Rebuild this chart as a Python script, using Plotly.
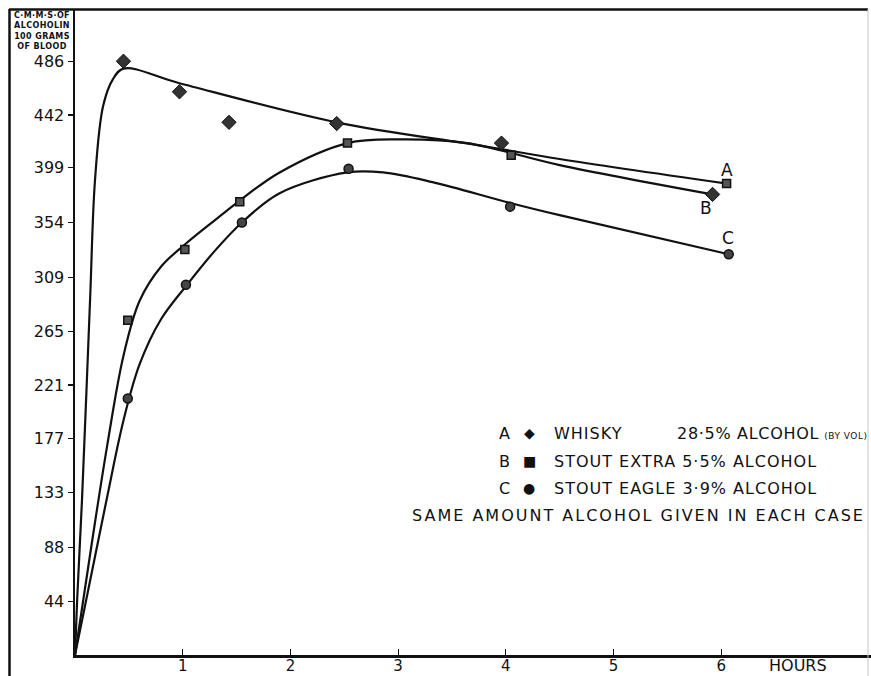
import plotly.graph_objects as go

# ---- data ----
y_tick_vals = [44, 88, 133, 177, 221, 265, 309, 354, 399, 442, 486]
y_tick_text = ["44", "88", "133", "177", "221", "265", "309", "354", "399", "442", "486"]
x_tick_vals = [1, 2, 3, 4, 5, 6]
x_tick_text = ["1", "2", "3", "4", "5", "6"]

# observed points (hours, C.M.M.S. of alcohol in 100 g of blood)
whisky_x = [0.45, 0.97, 1.43, 2.43, 3.96, 5.92]
whisky_y = [486, 461, 436, 435, 419, 377]
extra_x = [0.49, 1.02, 1.53, 2.53, 4.05, 6.05]
extra_y = [274, 332, 371, 419, 409, 386]
eagle_x = [0.49, 1.03, 1.55, 2.54, 4.04, 6.07]
eagle_y = [210, 303, 354, 398, 367, 328]

# hand-drawn smoothed curves
curve_a_x = [0, 0.02, 0.065, 0.14, 0.186, 0.26, 0.35, 0.45, 0.97, 2.43, 3.76, 4.50, 6.04]
curve_a_y = [0, 45, 127, 291, 389, 449, 471, 480, 468, 436, 417, 406, 386]
curve_b_x = [0, 0.15, 0.30, 0.45, 0.60, 0.80, 1.02, 1.30, 1.53, 1.90, 2.53, 3.02, 3.64, 4.50, 5.92]
curve_b_y = [0, 88, 172, 245, 290, 318, 336, 356, 372, 395, 419, 422, 419, 401, 377]
curve_c_x = [0, 0.15, 0.30, 0.45, 0.60, 0.80, 1.04, 1.30, 1.55, 1.90, 2.53, 2.86, 3.32, 4.04, 4.50, 6.07]
curve_c_y = [0, 65, 130, 192, 238, 275, 303, 331, 354, 378, 395, 395, 387, 370, 360, 328]

FONT = "DejaVu Sans"
INK = "#111111"

# figure fills the 871x676 window (body margin removed in post_script)
W, H = 871, 676
L, T, B = 75, 9, 21
PW, PH = W - L, H - T - B


def px_x(p):
    return (p - L) / PW


def px_y(p):
    return (H - B - p) / PH


fig = go.Figure()

for cx, cy in [(curve_a_x, curve_a_y), (curve_b_x, curve_b_y), (curve_c_x, curve_c_y)]:
    fig.add_trace(go.Scatter(x=cx, y=cy, mode="lines",
                             line=dict(color=INK, width=2.2, shape="spline", smoothing=1.0),
                             hoverinfo="skip", showlegend=False))

fig.add_trace(go.Scatter(x=whisky_x, y=whisky_y, mode="markers", name="Whisky",
                         marker=dict(symbol="diamond", size=11, color="#333333",
                                     line=dict(color=INK, width=1)), showlegend=False))
fig.add_trace(go.Scatter(x=extra_x, y=extra_y, mode="markers", name="Stout Extra",
                         marker=dict(symbol="square", size=8, color="#555555",
                                     line=dict(color=INK, width=1.5)), showlegend=False))
fig.add_trace(go.Scatter(x=eagle_x, y=eagle_y, mode="markers", name="Stout Eagle",
                         marker=dict(symbol="circle", size=9, color="#444444",
                                     line=dict(color=INK, width=1.5)), showlegend=False))

ann = []
# curve labels
for t, x, y in [("A", 6.05, 397), ("B", 5.86, 366), ("C", 6.06, 341)]:
    ann.append(dict(x=x, y=y, xref="x", yref="y", text=t, showarrow=False,
                    font=dict(family=FONT, size=17, color=INK)))


def sp(text, ls):
    return "<span style='letter-spacing:%spx'>%s</span>" % (ls, text)


def note(x, y, text, size=16, anchor="left", family=FONT, yanchor="middle"):
    ann.append(dict(x=px_x(x), y=px_y(y), xref="paper", yref="paper", text=text,
                    showarrow=False, xanchor=anchor, yanchor=yanchor, align="center",
                    font=dict(family=family, size=size, color=INK)))


# legend block
rows = [(433, "A", "◆", "WHISKY"), (461, "B", "■", "STOUT EXTRA 5·5% ALCOHOL"),
        (488, "C", "●", "STOUT EAGLE 3·9% ALCOHOL")]
for y, letter, sym, label in rows:
    note(504, y, letter, anchor="center")
    note(529, y, sym, size=14, anchor="center")
    note(552, y, sp(label, 1), anchor="left")
note(675, 433, sp("28·5% ALCOHOL", 0.7)
     + " <span style='font-size:9px;letter-spacing:0.5px'>(BY VOL)</span>")
note(867, 515, sp("SAME AMOUNT ALCOHOL GIVEN IN EACH CASE", 2), anchor="right")

# axis words
note(767, 665, "HOURS", size=16)
note(42, 9, "<b>" + sp("C·M·M·S·OF<br>ALCOHOLIN<br>100 GRAMS<br>OF BLOOD", 0.4) + "</b>", size=8,
     anchor="center", yanchor="top")

shapes = [
    # outer frame: left and top rules, faint right edge
    dict(type="line", xref="paper", yref="paper", x0=px_x(9.5), x1=px_x(9.5), y0=px_y(680), y1=px_y(9),
         line=dict(color=INK, width=2.5)),
    dict(type="line", xref="paper", yref="paper", x0=px_x(9), x1=px_x(868), y0=px_y(9.5), y1=px_y(9.5),
         line=dict(color=INK, width=2.5)),
    dict(type="line", xref="paper", yref="paper", x0=px_x(868), x1=px_x(868), y0=px_y(9), y1=px_y(680),
         line=dict(color="#c8c8c8", width=1)),
]

fig.update_layout(
    width=W, height=H,
    margin=dict(l=L, r=0, t=T, b=B, pad=0, autoexpand=False),
    paper_bgcolor="white", plot_bgcolor="white",
    annotations=ann, shapes=shapes,
    font=dict(family=FONT, color=INK),
    xaxis=dict(range=[0, PW / 107.7], tickvals=x_tick_vals, ticktext=x_tick_text,
               automargin=False, ticklabelstandoff=-5,
               showgrid=False, zeroline=False, showline=True, linecolor=INK, linewidth=2.5,
               ticks="inside", ticklen=6, tickwidth=1.2, tickcolor=INK,
               tickfont=dict(family=FONT, size=15, color=INK)),
    yaxis=dict(range=[0, PH / (54 / 44.2)], tickvals=y_tick_vals, ticktext=y_tick_text,
               automargin=False,
               showgrid=False, zeroline=False, showline=True, linecolor=INK, linewidth=2.5,
               ticks="outside", ticklen=5, tickwidth=1.2, tickcolor=INK,
               tickfont=dict(family=FONT, size=16, color=INK)),
)

fig.write_html("out.html", config={"displayModeBar": False, "staticPlot": True},
               post_script="document.body.style.margin='0px';document.body.style.overflow='hidden';")
